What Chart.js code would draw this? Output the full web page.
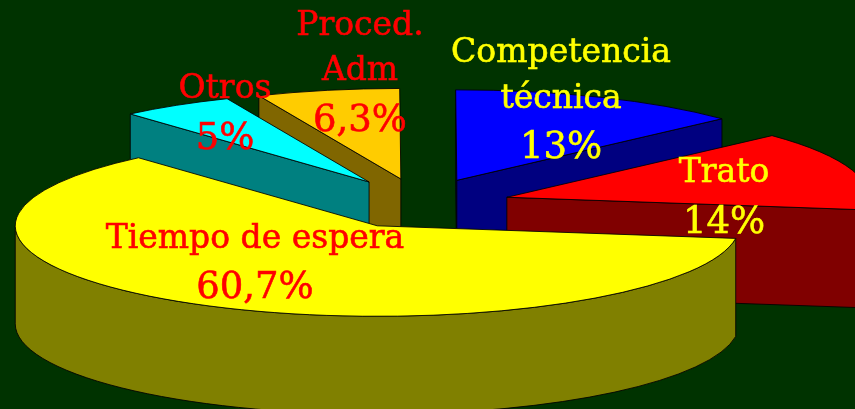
<!DOCTYPE html>
<html>
<head>
<meta charset="utf-8">
<style>
  html, body { margin: 0; padding: 0; background: #003300; overflow: hidden; }
  #wrap { width: 855px; height: 409px; }
</style>
<script src="https://cdn.jsdelivr.net/npm/chart.js@4"></script>
</head>
<body>
<div id="wrap"><canvas id="pie" width="855" height="409"></canvas></div>
<script>
// Valores (suman 99)
const categories = ["Tiempo de espera", "Otros", "Proced. Adm", "Competencia técnica", "Trato"];
const values = [60.7, 5, 6.3, 13, 14];
const valueLabels = ["60,7%", "5%", "6,3%", "13%", "14%"];
const topColors = ["#ffff00", "#00ffff", "#ffcc00", "#0000ff", "#ff0000"];
const wallColors = ["#808000", "#008080", "#806600", "#000080", "#800000"];

// Lineas de texto de cada etiqueta: [texto, x, linea base, tamaño, color]
const textLines = [
  ["Proced.", 360, 35, 33, "#ff0000"],
  ["Adm", 360, 80, 33, "#ff0000"],
  [valueLabels[2], 360, 131, 37, "#ff0000"],
  ["Otros", 225, 98, 33, "#ff0000"],
  [valueLabels[1], 225, 149, 37, "#ff0000"],
  ["Competencia", 561, 62, 33, "#ffff00"],
  ["técnica", 561, 108, 33, "#ffff00"],
  [valueLabels[3], 561, 158, 37, "#ffff00"],
  ["Trato", 724, 182, 33, "#ffff00"],
  [valueLabels[4], 724, 233, 37, "#ffff00"],
  [categories[0], 255, 248, 33, "#ff0000"],
  [valueLabels[0], 255, 298, 37, "#ff0000"]
];

const TILT = 0.25;       // aplastamiento de la elipse
const WALL = 98;         // altura de la pared
const EXPLODE = 90;      // separacion de las porciones
const DRAW_ORDER = [3, 4, 2, 1, 0]; // de atras hacia adelante
// ajuste fino de cada porcion por la perspectiva
const SLICE_SHIFT = [[1, 4], [-2, -1], [0, -1], [2, -1], [2, 2]];

const OUTLINE = "rgba(0,0,0,0.85)";

function apexOf(arc, i) {
  const mid = (arc.startAngle + arc.endAngle) / 2;
  return [
    arc.x + Math.cos(mid) * EXPLODE + SLICE_SHIFT[i][0],
    arc.y + Math.sin(mid) * EXPLODE * TILT + SLICE_SHIFT[i][1]
  ];
}

function drawWall(ctx, arc, i) {
  const R = arc.outerRadius;
  const [ax, ay] = apexOf(arc, i);
  const pt = a => [ax + R * Math.cos(a), ay + R * TILT * Math.sin(a)];

  ctx.fillStyle = wallColors[i];
  ctx.strokeStyle = OUTLINE;
  ctx.lineWidth = 1;

  // caras radiales visibles
  [[arc.startAngle, Math.cos(arc.startAngle) < 0], [arc.endAngle, Math.cos(arc.endAngle) > 0]].forEach(([a, visible]) => {
    if (!visible) return;
    const [px, py] = pt(a);
    ctx.beginPath();
    ctx.moveTo(ax, ay);
    ctx.lineTo(px, py);
    ctx.lineTo(px, py + WALL);
    ctx.lineTo(ax, ay + WALL);
    ctx.closePath();
    ctx.fill();
    ctx.stroke();
  });

  // banda exterior: solo la mitad delantera de la elipse
  const turn = Math.PI * 2;
  for (let k = -1; k < 2; k++) {
    const a0 = Math.max(arc.startAngle, k * turn);
    const a1 = Math.min(arc.endAngle, k * turn + Math.PI);
    if (a1 <= a0) continue;
    ctx.beginPath();
    ctx.ellipse(ax, ay, R, R * TILT, 0, a0, a1);
    ctx.ellipse(ax, ay + WALL, R, R * TILT, 0, a1, a0, true);
    ctx.closePath();
    ctx.fill();
    ctx.stroke();
  }
}

function drawTop(ctx, arc, i) {
  const [ax, ay] = apexOf(arc, i);

  // la porcion la dibuja el propio elemento de Chart.js, aplastada y desplazada
  ctx.save();
  ctx.translate(ax - arc.x, ay);
  ctx.scale(1, TILT);
  ctx.translate(0, -arc.y);
  arc.draw(ctx);
  ctx.restore();

  ctx.beginPath();
  ctx.moveTo(ax, ay);
  ctx.ellipse(ax, ay, arc.outerRadius, arc.outerRadius * TILT, 0, arc.startAngle, arc.endAngle);
  ctx.closePath();
  ctx.strokeStyle = OUTLINE;
  ctx.lineWidth = 1;
  ctx.stroke();
}

const pie3d = {
  id: 'pie3d',
  beforeDatasetsDraw(chart) {
    const ctx = chart.ctx;
    const arcs = chart.getDatasetMeta(0).data;
    DRAW_ORDER.forEach(i => {
      drawWall(ctx, arcs[i], i);
      drawTop(ctx, arcs[i], i);
    });
    return false;
  },
  afterDraw(chart) {
    const ctx = chart.ctx;
    ctx.save();
    ctx.textAlign = 'center';
    ctx.textBaseline = 'alphabetic';
    ctx.lineWidth = 0.6;
    textLines.forEach(([txt, x, y, size, color]) => {
      ctx.font = size + 'px "DejaVu Serif"';
      ctx.fillStyle = color;
      ctx.strokeStyle = color;
      ctx.fillText(txt, x, y);
      ctx.strokeText(txt, x, y);
    });
    ctx.restore();
  }
};

new Chart(document.getElementById('pie'), {
  type: 'pie',
  data: {
    labels: categories,
    datasets: [{
      data: values,
      backgroundColor: topColors,
      borderWidth: 0
    }]
  },
  options: {
    responsive: false,
    animation: false,
    rotation: 98,
    radius: 362,
    layout: { padding: { right: 17, bottom: 5 } },
    plugins: { legend: { display: false }, tooltip: { enabled: false } },
    events: []
  },
  plugins: [pie3d]
});
</script>
</body>
</html>
